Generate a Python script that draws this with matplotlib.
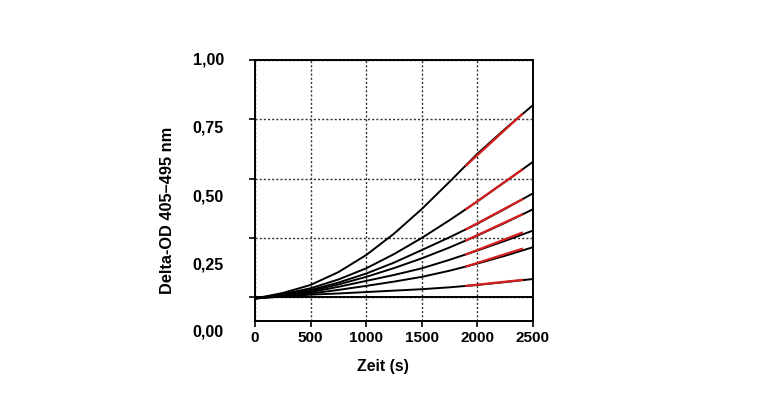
import numpy as np
import matplotlib
matplotlib.use("Agg")
import matplotlib.pyplot as plt

plt.rcParams['font.family'] = ['Liberation Sans', 'DejaVu Sans']
plt.rcParams['font.weight'] = 'bold'

# time points (s)
zeit = [0, 250, 500, 750, 1000, 1250, 1500, 1750, 2000, 2250, 2500]

# Delta-OD curves, top to bottom
kurve_1 = [-0.005, 0.018, 0.052, 0.106, 0.178, 0.268, 0.372, 0.487, 0.605, 0.710, 0.810]
kurve_2 = [-0.005, 0.013, 0.038, 0.075, 0.122, 0.182, 0.250, 0.325, 0.404, 0.487, 0.571]
kurve_3 = [-0.005, 0.011, 0.031, 0.062, 0.100, 0.146, 0.199, 0.253, 0.310, 0.373, 0.438]
kurve_4 = [-0.005, 0.010, 0.027, 0.054, 0.086, 0.123, 0.164, 0.210, 0.260, 0.314, 0.371]
kurve_5 = [-0.005, 0.008, 0.022, 0.044, 0.069, 0.094, 0.122, 0.158, 0.197, 0.238, 0.281]
kurve_6 = [-0.005, 0.005, 0.016, 0.031, 0.048, 0.066, 0.086, 0.112, 0.142, 0.175, 0.211]
kurve_7 = [-0.005, 0.003, 0.011, 0.016, 0.022, 0.028, 0.034, 0.042, 0.052, 0.064, 0.077]
leerwert = [0, 0, 0, 0, 0, 0, 0, 0, 0, 0, 0]

# linear fit segments (red), start/end
fit_zeit = [1900, 2400]
fit_1 = [0.556, 0.771]
fit_2 = [0.372, 0.537]
fit_3 = [0.287, 0.412]
fit_4 = [0.240, 0.349]
fit_5 = [0.181, 0.272]
fit_6 = [0.130, 0.204]
fit_7 = [0.048, 0.073]

y_tick_text = ["1,00", "0,75", "0,50", "0,25", "0,00"]
# where the labels sit (they are offset from the grid in the original)
y_tick_text_pos = [1.0, 0.712, 0.421, 0.135, -0.146]

fig = plt.figure(figsize=(7.74, 3.96), dpi=100)
ax = fig.add_axes([255 / 774, 1 - 321 / 396, 278 / 774, 261 / 396])

kurven = [kurve_1, kurve_2, kurve_3, kurve_4, kurve_5, kurve_6, kurve_7]
fits = [fit_1, fit_2, fit_3, fit_4, fit_5, fit_6, fit_7]

ax.plot(zeit, leerwert, color='black', lw=1.4)
for k in kurven:
    ax.plot(zeit, k, color='black', lw=1.4)
for f in fits:
    ax.plot(fit_zeit, f, color='#d41f1f', lw=1.6)

ax.set_xlim(0, 2500)
ax.set_ylim(-0.1, 1.0)
ax.set_xticks([0, 500, 1000, 1500, 2000, 2500])
ax.set_yticks([0, 0.25, 0.5, 0.75, 1.0])
ax.set_yticklabels([])
ax.grid(True, ls=(0, (1.5, 1.5)), color='#333333', lw=1.0)
ax.set_axisbelow(True)

for s in ax.spines.values():
    s.set_linewidth(1.4)
ax.tick_params(axis='x', direction='out', length=4, width=1.2, labelsize=11, pad=3)
ax.tick_params(axis='y', direction='out', length=4, width=1.2)

for lab, pos in zip(y_tick_text, y_tick_text_pos):
    ax.text(-0.112, pos, lab, transform=ax.get_yaxis_transform(), ha='right', va='center',
            fontsize=11.5, fontweight='bold', clip_on=False)

fig.text(167 / 774, 1 - 210 / 396, "Delta-OD 405\u2013495 nm", rotation=90, ha='center', va='center',
         fontsize=11.8, fontweight='bold')
fig.text(383 / 774, 1 - 366 / 396, "Zeit (s)", ha='center', va='center', fontsize=11.3, fontweight='bold')

fig.savefig("out.png", dpi=100)
